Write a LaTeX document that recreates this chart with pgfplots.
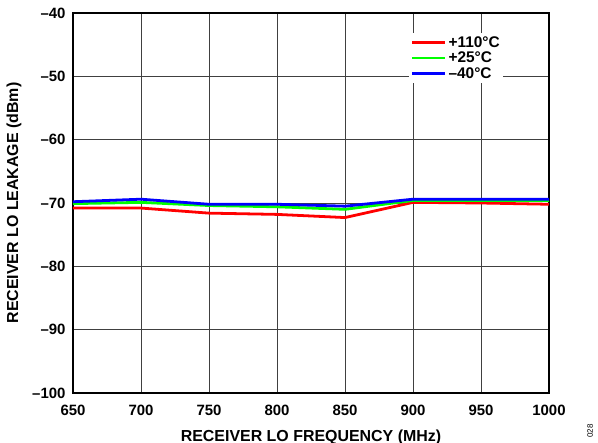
\documentclass[border=0pt]{standalone}
\usepackage{pgfplots}
\pgfplotsset{compat=1.18}
\usepackage{fontspec}
\setmainfont{Liberation Sans}
\begin{document}
\begin{tikzpicture}
\useasboundingbox (-73bp,-50bp) rectangle (525bp,393bp);
\begin{axis}[
  at={(0,0)}, anchor=south west,
  scale only axis,
  width=476bp, height=380bp,
  xmin=650, xmax=1000, ymin=-100, ymax=-40,
  xtick={650,700,...,1000}, ytick={-100,-90,...,-40},
  grid=major,
  major grid style={black!75, line width=0.9pt},
  axis line style={black, line width=1.3pt},
  tick style={draw=none},
  /pgf/number format/assume math mode=true,
  ticklabel style={font=\fontsize{15}{16}\selectfont\bfseries},
  xticklabel style={yshift=-9pt},
  yticklabel style={xshift=-4pt},
  yticklabel={\ifdim\tick pt<0pt –\pgfmathparse{-\tick}\pgfmathprintnumber[int detect]{\pgfmathresult}\else\pgfmathprintnumber[int detect]{\tick}\fi},
  xticklabel={\pgfmathprintnumber[int detect,set thousands separator={}]{\tick}},
  xlabel={RECEIVER LO FREQUENCY (MHz)},
  ylabel={RECEIVER LO LEAKAGE (dBm)},
  label style={font=\fontsize{16}{18}\selectfont\bfseries},
  xlabel style={at={(axis description cs:0.5,0)}, anchor=center, yshift=-44bp},
  ylabel style={at={(axis description cs:0,0.5)}, anchor=center, yshift=59bp},
  legend style={at={(0.706,0.948)}, anchor=north west, draw=none, fill=white,
    font=\fontsize{15.5}{16}\selectfont\bfseries, row sep=-0.8pt, inner sep=1.5pt},
  legend cell align=left,
  legend image code/.code={\draw[#1, line width=2.8pt] (0bp,0bp) -- (33bp,0bp);},
]
\addplot[red, line width=2.8pt] coordinates {(650,-70.8) (700,-70.8) (750,-71.6) (800,-71.8) (850,-72.3) (900,-69.9) (950,-70.0) (1000,-70.2)};
\addlegendentry{+110°C}
\addplot[green, line width=2.8pt] coordinates {(650,-70.1) (700,-69.9) (750,-70.4) (800,-70.6) (850,-71.0) (900,-69.6) (950,-69.6) (1000,-69.6)};
\addlegendentry{+25°C}
\addplot[blue, line width=2.8pt] coordinates {(650,-69.8) (700,-69.4) (750,-70.2) (800,-70.2) (850,-70.5) (900,-69.4) (950,-69.4) (1000,-69.4)};
\addlegendentry{–40°C}
\end{axis}
\node[rotate=90, font=\fontsize{8}{9}\selectfont, anchor=center] at (517bp,-38bp) {028};
\end{tikzpicture}
\end{document}
